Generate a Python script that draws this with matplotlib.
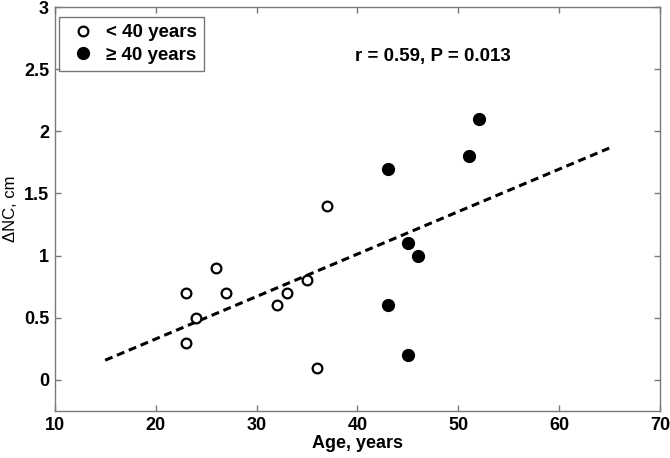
import numpy as np
import matplotlib
matplotlib.use("Agg")
import matplotlib.pyplot as plt
from matplotlib.lines import Line2D

# ---- data ----
age_young = [23, 26, 27, 24, 23, 32, 33, 35, 36, 37]
dnc_young = [0.7, 0.9, 0.7, 0.5, 0.3, 0.6, 0.7, 0.8, 0.1, 1.4]
age_old = [43, 52, 51, 45, 46, 43, 45]
dnc_old = [1.7, 2.1, 1.8, 1.1, 1.0, 0.6, 0.2]
fit_x_range = [15, 65]
label_young = "< 40 years"
label_old = "\u2265 40 years"
stat_text = "r = 0.59, P = 0.013"
x_ticks = [10, 20, 30, 40, 50, 60, 70]
y_ticks = [0, 0.5, 1, 1.5, 2, 2.5, 3]
y_ticklabels = ["0", "0.5", "1", "1.5", "2", "2.5", "3"]

plt.rcParams['font.family'] = ['Liberation Sans', 'DejaVu Sans']

fig = plt.figure(figsize=(6.7, 4.58), dpi=100)
ax = fig.add_axes([0.0816, 0.1026, 0.9855 - 0.0816, 0.9847 - 0.1026])

# regression line from data
all_x = np.array(age_young + age_old, dtype=float)
all_y = np.array(dnc_young + dnc_old, dtype=float)
slope, intercept = np.polyfit(all_x, all_y, 1)
lx = np.array(fit_x_range, dtype=float)
ax.plot(lx, slope * lx + intercept, color='black', lw=2.2,
        linestyle=(0, (2.6, 1.6)), zorder=2)

ax.plot(age_young, dnc_young, 'o', ms=7, mfc='white', mec='black', mew=1.6,
        linestyle='none', zorder=3)
ax.plot(age_old, dnc_old, 'o', ms=8.5, mfc='black', mec='black',
        linestyle='none', zorder=3)

ax.set_xlim(10, 70)
ax.set_ylim(-0.25, 3)
ax.set_xticks(x_ticks)
ax.set_yticks(y_ticks)
ax.set_yticklabels(y_ticklabels)

spine_col = '#7a7a7a'
for s in ax.spines.values():
    s.set_color(spine_col)
    s.set_linewidth(1.0)
ax.tick_params(direction='in', length=4, width=1, color=spine_col,
               top=True, right=True, labelsize=13, pad=4)
for lab in ax.get_xticklabels() + ax.get_yticklabels():
    lab.set_fontweight('bold')

ax.set_xlabel("Age, years", fontsize=13, fontweight='bold', labelpad=1)
ax.set_ylabel("\u0394NC, cm", fontsize=12, labelpad=4)

ax.text(39.8, 2.6, stat_text, fontsize=13.5, fontweight='bold',
        ha='left', va='center')

handles = [
    Line2D([], [], marker='o', ms=7, mfc='white', mec='black', mew=1.6,
           linestyle='none'),
    Line2D([], [], marker='o', ms=8.5, mfc='black', mec='black',
           linestyle='none'),
]
leg = ax.legend(handles, [label_young, label_old], loc='upper left',
                bbox_to_anchor=(0.0066, 0.9765), prop={'weight': 'bold', 'size': 13.5},
                frameon=True, fancybox=False, borderaxespad=0,
                handletextpad=0.3, handlelength=1.8, borderpad=0.4,
                labelspacing=0.3)
leg.get_frame().set_edgecolor('#555555')
leg.get_frame().set_linewidth(1.0)

fig.savefig("out.png", dpi=100)
